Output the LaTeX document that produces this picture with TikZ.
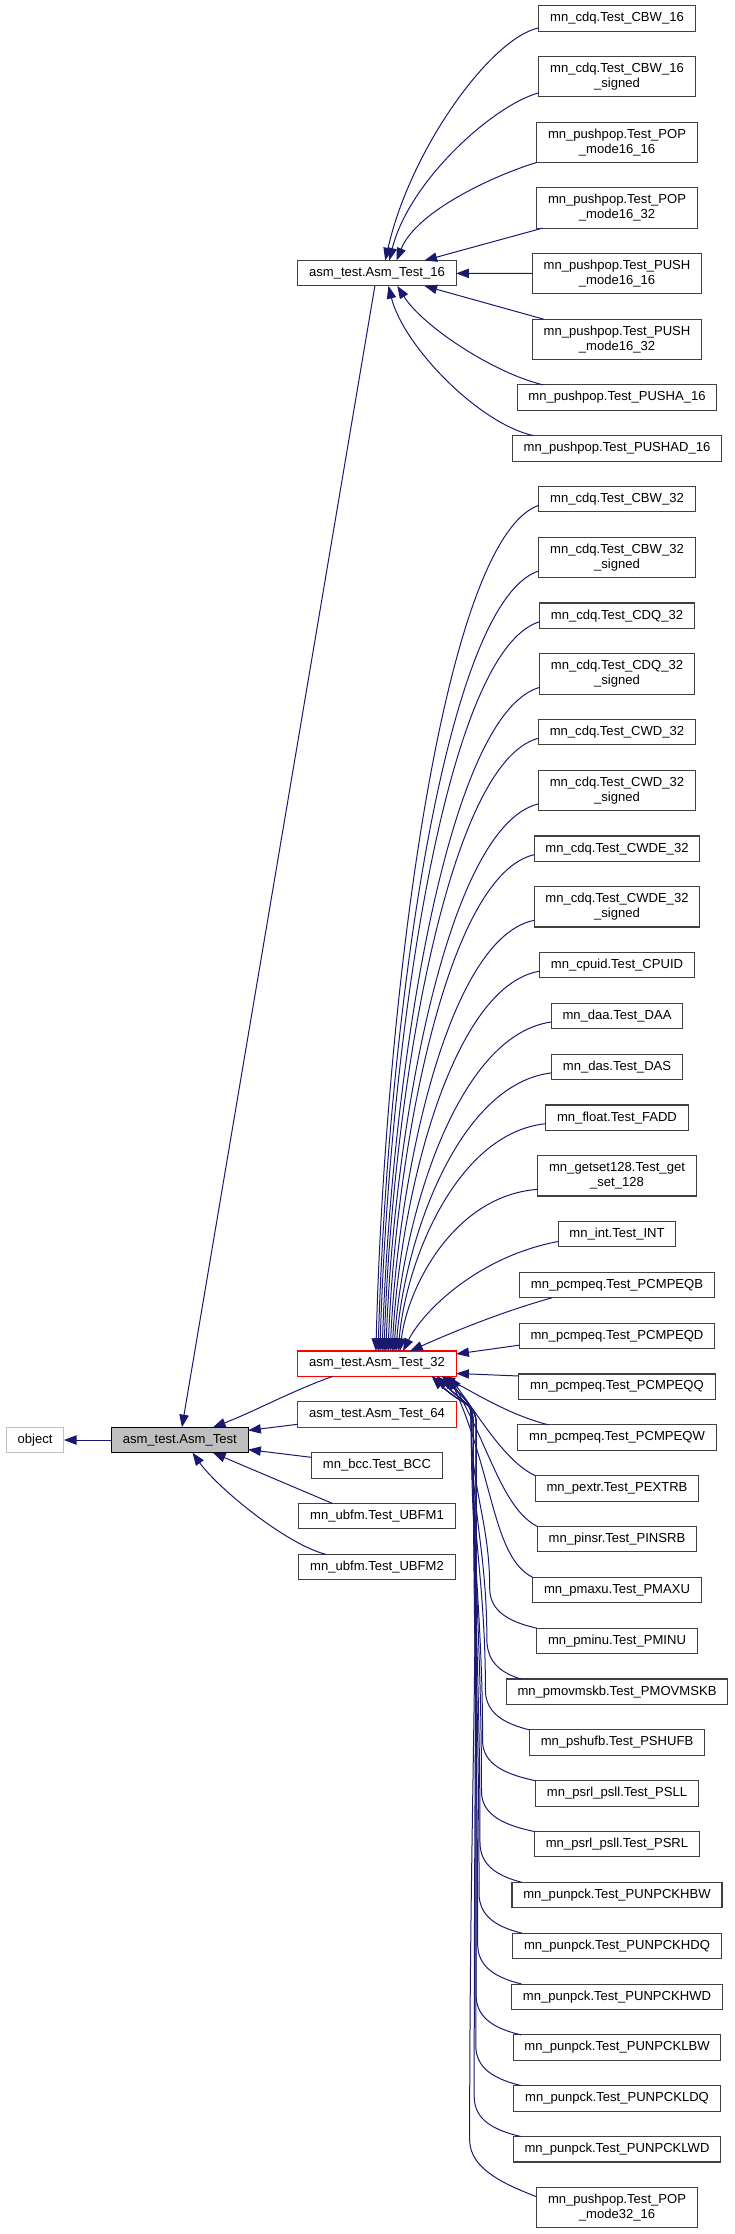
\documentclass[tikz,border=0pt]{standalone}
\usepackage{fontspec}
\setmainfont{Liberation Sans}
\usepackage{tikz}
\usetikzlibrary{arrows.meta,positioning}
\definecolor{edgeblue}{HTML}{191970}
\definecolor{boxline}{HTML}{404040}
\definecolor{rootgray}{HTML}{BFBFBF}
\definecolor{partred}{HTML}{FF0000}
\newcommand{\lblfont}{\fontsize{9.8pt}{11.3pt}\selectfont}

\begin{document}
\begin{tikzpicture}[x=0.75pt,y=-0.75pt,node distance=19.08pt,
  cls/.style={draw=boxline,line width=0.8pt,font=\lblfont,align=center,inner xsep=8.5pt,inner ysep=1pt,outer sep=0pt,minimum height=19.05pt},
  cls2/.style={cls,minimum height=30.15pt},
  redcls/.style={cls,draw=partred},
  rootcls/.style={cls,draw=black,fill=rootgray},
  extcls/.style={cls,draw=rootgray},
  arr/.style={-{Triangle[length=9.5pt,width=7pt]},draw=edgeblue,line width=0.75pt}]
\useasboundingbox (0,0) rectangle (735,2234);
% derived classes, one column
\node[cls] (cbw16) at (617,18.5) {mn\_cdq.Test\_CBW\_16};
\node[cls2,below=of cbw16] (cbw16s) {mn\_cdq.Test\_CBW\_16\\\_signed};
\node[cls2,below=of cbw16s] (pop1616) {mn\_pushpop.Test\_POP\\\_mode16\_16};
\node[cls2,below=of pop1616] (pop1632) {mn\_pushpop.Test\_POP\\\_mode16\_32};
\node[cls2,below=of pop1632] (push1616) {mn\_pushpop.Test\_PUSH\\\_mode16\_16};
\node[cls2,below=of push1616] (push1632) {mn\_pushpop.Test\_PUSH\\\_mode16\_32};
\node[cls,below=of push1632] (pusha) {mn\_pushpop.Test\_PUSHA\_16};
\node[cls,below=of pusha] (pushad) {mn\_pushpop.Test\_PUSHAD\_16};
\node[cls,below=of pushad] (cbw32) {mn\_cdq.Test\_CBW\_32};
\node[cls2,below=of cbw32] (cbw32s) {mn\_cdq.Test\_CBW\_32\\\_signed};
\node[cls,below=of cbw32s] (cdq32) {mn\_cdq.Test\_CDQ\_32};
\node[cls2,below=of cdq32] (cdq32s) {mn\_cdq.Test\_CDQ\_32\\\_signed};
\node[cls,below=of cdq32s] (cwd32) {mn\_cdq.Test\_CWD\_32};
\node[cls2,below=of cwd32] (cwd32s) {mn\_cdq.Test\_CWD\_32\\\_signed};
\node[cls,below=of cwd32s] (cwde32) {mn\_cdq.Test\_CWDE\_32};
\node[cls2,below=of cwde32] (cwde32s) {mn\_cdq.Test\_CWDE\_32\\\_signed};
\node[cls,below=of cwde32s] (cpuid) {mn\_cpuid.Test\_CPUID};
\node[cls,below=of cpuid] (daa) {mn\_daa.Test\_DAA};
\node[cls,below=of daa] (das) {mn\_das.Test\_DAS};
\node[cls,below=of das] (fadd) {mn\_float.Test\_FADD};
\node[cls2,below=of fadd] (getset) {mn\_getset128.Test\_get\\\_set\_128};
\node[cls,below=of getset] (int) {mn\_int.Test\_INT};
\node[cls,below=of int] (peqb) {mn\_pcmpeq.Test\_PCMPEQB};
\node[cls,below=of peqb] (peqd) {mn\_pcmpeq.Test\_PCMPEQD};
\node[cls,below=of peqd] (peqq) {mn\_pcmpeq.Test\_PCMPEQQ};
\node[cls,below=of peqq] (peqw) {mn\_pcmpeq.Test\_PCMPEQW};
\node[cls,below=of peqw] (pextrb) {mn\_pextr.Test\_PEXTRB};
\node[cls,below=of pextrb] (pinsrb) {mn\_pinsr.Test\_PINSRB};
\node[cls,below=of pinsrb] (pmaxu) {mn\_pmaxu.Test\_PMAXU};
\node[cls,below=of pmaxu] (pminu) {mn\_pminu.Test\_PMINU};
\node[cls,below=of pminu] (pmovmskb) {mn\_pmovmskb.Test\_PMOVMSKB};
\node[cls,below=of pmovmskb] (pshufb) {mn\_pshufb.Test\_PSHUFB};
\node[cls,below=of pshufb] (psll) {mn\_psrl\_psll.Test\_PSLL};
\node[cls,below=of psll] (psrl) {mn\_psrl\_psll.Test\_PSRL};
\node[cls,below=of psrl] (hbw) {mn\_punpck.Test\_PUNPCKHBW};
\node[cls,below=of hbw] (hdq) {mn\_punpck.Test\_PUNPCKHDQ};
\node[cls,below=of hdq] (hwd) {mn\_punpck.Test\_PUNPCKHWD};
\node[cls,below=of hwd] (lbw) {mn\_punpck.Test\_PUNPCKLBW};
\node[cls,below=of lbw] (ldq) {mn\_punpck.Test\_PUNPCKLDQ};
\node[cls,below=of ldq] (lwd) {mn\_punpck.Test\_PUNPCKLWD};
\node[cls2,below=of lwd] (pop3216) {mn\_pushpop.Test\_POP\\\_mode32\_16};
% middle column
\node[cls] (p16) at (377,273.2) {asm\_test.Asm\_Test\_16};
\node[redcls] (at32) at (377,1363.7) {asm\_test.Asm\_Test\_32};
\node[redcls,below=of at32] (at64) {asm\_test.Asm\_Test\_64};
\node[cls,below=of at64] (bcc) {mn\_bcc.Test\_BCC};
\node[cls,below=of bcc] (ubfm1) {mn\_ubfm.Test\_UBFM1};
\node[cls,below=of ubfm1] (ubfm2) {mn\_ubfm.Test\_UBFM2};
% base classes
\node[rootcls] (asmtest) at (179.8,1440) {asm\_test.Asm\_Test};
\node[extcls,left=35.7pt of asmtest] (object) {object};

% 16 bit tests
\draw[arr] ([yshift=2.5pt]cbw16.south west) .. controls +(-48,10) and +(25,-111) .. (p16.57);
\draw[arr] ([yshift=3pt]cbw16s.south west) .. controls +(-45,12) and +(20,-80) .. (p16.46);
\draw[arr] (pop1616.south west) .. controls +(-40,12) and +(20,-50) .. (p16.33);
\draw[arr] ([xshift=4.5pt]pop1632.south west) -- (p16.15);
\draw[arr] (push1616) -- (p16);
\draw[arr] ([xshift=8.5pt]push1632.north west) -- (p16.-15);
\draw[arr] ([xshift=19.5pt]pusha.north west) .. controls +(-50,-12) and +(25,40) .. (p16.-32);
\draw[arr] ([xshift=16pt]pushad.north west) .. controls +(-55,-12) and +(15,60) .. (p16.-48);
% 32 bit tests, from above
\draw[arr] ([yshift=5pt]cbw32.south west) .. controls +(-97,34) and +(9,-347) .. (at32.95);
\draw[arr] ([yshift=5pt]cbw32s.south west) .. controls +(-96,31) and +(9,-320) .. (at32.85);
\draw[arr] ([yshift=5pt]cdq32.south west) .. controls +(-96,29) and +(9,-299) .. (at32.77);
\draw[arr] ([yshift=5pt]cdq32s.south west) .. controls +(-94,27) and +(9,-272) .. (at32.68);
\draw[arr] ([yshift=5pt]cwd32.south west) .. controls +(-92,24) and +(8,-251) .. (at32.61);
\draw[arr] ([yshift=5pt]cwd32s.south west) .. controls +(-91,22) and +(8,-224) .. (at32.55);
\draw[arr] ([yshift=5pt]cwde32.south west) .. controls +(-87,20) and +(8,-203) .. (at32.49);
\draw[arr] ([yshift=5pt]cwde32s.south west) .. controls +(-86,17) and +(8,-176) .. (at32.44);
\draw[arr] ([yshift=5pt]cpuid.south west) .. controls +(-88,15) and +(8,-155) .. (at32.40);
\draw[arr] ([yshift=5pt]daa.south west) .. controls +(-94,13) and +(9,-134) .. (at32.37);
\draw[arr] ([yshift=5pt]das.south west) .. controls +(-93,11) and +(9,-113) .. (at32.34);
\draw[arr] ([yshift=5pt]fadd.south west) .. controls +(-88,9) and +(8,-92) .. (at32.31);
\draw[arr] ([yshift=5pt]getset.south west) .. controls +(-83,6) and +(8,-65) .. (at32.29);
\draw[arr] ([yshift=4pt]int.south west) .. controls +(-80,15) and +(20,-40) .. (at32.26);
\draw[arr] ([xshift=24.5pt]peqb.south west) .. controls +(-50,14) and +(45,-20) .. (at32.21);
\draw[arr] ([yshift=-7pt]peqd.west) -- (at32.7);
\draw[arr] ([yshift=8pt]peqq.west) -- (at32.-7);
\draw[arr] ([xshift=23pt]peqw.north west) .. controls +(-40,-10) and +(30,15) .. (at32.-11);
% 32 bit tests, from below
\draw[arr] (pextrb.north west) .. controls +(-30,-14) and +(30,40) .. (at32.-10);
\draw[arr] (pinsrb.north west) .. controls +(-35,-18) and +(40,70) .. (at32.-10);
\draw[arr] (pmaxu.north west) .. controls +(-40,-20) and +(45,100) .. (at32.-10);
\draw[arr] (pminu.north west) .. controls +(-26,-6) and +(0,24) .. ++(-47,-40) .. controls +(0,-66) and +(0,66) .. ([shift={(15,48)}]at32.south east) .. controls +(0,-22) and +(28,28) .. (at32.-11);
\draw[arr] ([xshift=11pt]pmovmskb.north west) .. controls +(-19,-6) and +(0,24) .. ++(-34,-40) .. controls +(0,-86) and +(0,86) .. ([shift={(15,48)}]at32.south east) .. controls +(0,-22) and +(28,28) .. (at32.-11);
\draw[arr] (pshufb.north west) .. controls +(-24,-6) and +(0,24) .. ++(-44,-40) .. controls +(0,-107) and +(0,107) .. ([shift={(15,48)}]at32.south east) .. controls +(0,-22) and +(28,28) .. (at32.-11);
\draw[arr] (psll.north west) .. controls +(-29,-6) and +(0,24) .. ++(-53,-40) .. controls +(0,-127) and +(0,127) .. ([shift={(15,48)}]at32.south east) .. controls +(0,-22) and +(28,28) .. (at32.-11);
\draw[arr] (psrl.north west) .. controls +(-29,-6) and +(0,24) .. ++(-53,-40) .. controls +(0,-148) and +(0,148) .. ([shift={(17,48)}]at32.south east) .. controls +(0,-22) and +(28,28) .. (at32.-12);
\draw[arr] ([xshift=7.5pt]hbw.north west) .. controls +(-23,-6) and +(0,24) .. ++(-42,-40) .. controls +(0,-167) and +(0,167) .. ([shift={(17,48)}]at32.south east) .. controls +(0,-22) and +(28,28) .. (at32.-12);
\draw[arr] ([xshift=7pt]hdq.north west) .. controls +(-24,-6) and +(0,24) .. ++(-43,-40) .. controls +(0,-188) and +(0,188) .. ([shift={(17,48)}]at32.south east) .. controls +(0,-22) and +(28,28) .. (at32.-12);
\draw[arr] ([xshift=7.5pt]hwd.north west) .. controls +(-24,-6) and +(0,24) .. ++(-44,-40) .. controls +(0,-208) and +(0,208) .. ([shift={(17,48)}]at32.south east) .. controls +(0,-22) and +(28,28) .. (at32.-12);
\draw[arr] ([xshift=6pt]lbw.north west) .. controls +(-25,-6) and +(0,24) .. ++(-45,-40) .. controls +(0,-228) and +(0,228) .. ([shift={(20,48)}]at32.south east) .. controls +(0,-22) and +(28,28) .. (at32.-13);
\draw[arr] ([xshift=6pt]ldq.north west) .. controls +(-25,-6) and +(0,24) .. ++(-46,-40) .. controls +(0,-249) and +(0,249) .. ([shift={(20,48)}]at32.south east) .. controls +(0,-22) and +(28,28) .. (at32.-13);
\draw[arr] ([xshift=6pt]lwd.north west) .. controls +(-26,-6) and +(0,24) .. ++(-47,-40) .. controls +(0,-269) and +(0,269) .. ([shift={(20,48)}]at32.south east) .. controls +(0,-22) and +(28,28) .. (at32.-13);
\draw[arr] ([yshift=8pt]pop3216.west) .. controls +(-30,-12) and +(0,30) .. ++(-67,-57) .. controls +(0,-286) and +(0,286) .. ([shift={(20,48)}]at32.south east) .. controls +(0,-22) and +(28,28) .. (at32.-13);
% into the base class
\draw[arr] (p16) -- (asmtest);
\draw[arr] (at32.196) .. controls +(-40,14) and +(42,-16) .. (asmtest.21);
\draw[arr] (at64.187) -- (asmtest.8);
\draw[arr] (bcc.173) -- (asmtest.-8);
\draw[arr] (ubfm1.164) -- (asmtest.-21);
\draw[arr] (ubfm2.166) .. controls +(-40,-10) and +(25,35) .. (asmtest.-45);
\draw[arr] (asmtest) -- (object);
\end{tikzpicture}
\end{document}
